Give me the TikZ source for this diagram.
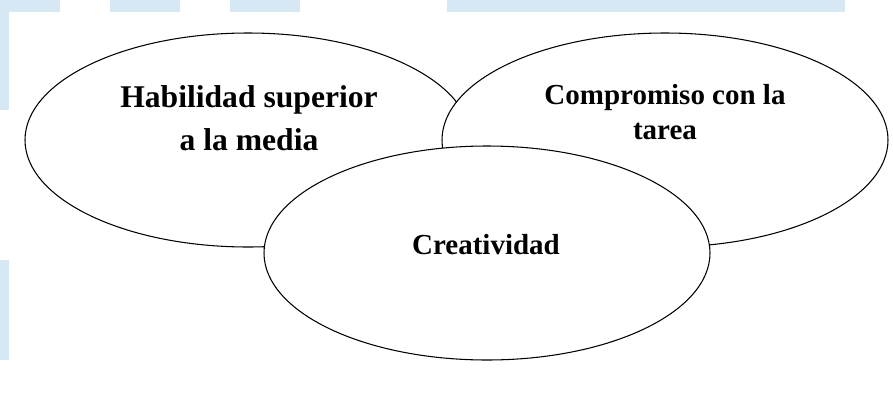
\documentclass[tikz,border=0pt]{standalone}
\usepackage{fontspec}
\setmainfont{Liberation Serif}
\usetikzlibrary{shapes.geometric}
\definecolor{wmblue}{HTML}{D5E8F3}

\begin{document}
\begin{tikzpicture}[x=0.02cm, y=-0.02cm]
  \tikzset{
    trait/.style={draw, ellipse, fill=white, line width=0.6pt,
      minimum width=446*0.02cm, minimum height=214*0.02cm, inner sep=0pt},
    traittext/.style={font=\bfseries\fontsize{16.5}{19.5}\selectfont, align=center},
    wm/.style={fill=wmblue, draw=none}
  }

  % Watermark behind the panel
  \useasboundingbox (0,0) rectangle (893,396);
  \fill[white] (0,0) rectangle (893,396);
  \fill[wm] (0,0) rectangle (9,110);
  \fill[wm] (0,260) rectangle (9,360);
  \fill[wm] (0,0) rectangle (60,12);
  \fill[wm] (110,0) rectangle (180,12);
  \fill[wm] (230,0) rectangle (300,12);
  \fill[wm] (447,0) rectangle (845,12);

  % White panel
  \fill[white] (9,12) rectangle (893,396);

  % Three overlapping traits
  \node[trait] (ability) at (248,140) {};
  \node[trait] (task) at (665,140) {};
  \node[trait] (creative) at (487,253) {};

  % Labels
  \node[traittext, font=\bfseries\fontsize{18}{24.5}\selectfont] (abilitytext) at (249,118)
    {Habilidad superior\\a la media};
  \node[traittext, font=\bfseries\fontsize{16.5}{19.5}\selectfont] (tasktext) at (665,112)
    {Compromiso con la\\tarea};
  \node[traittext] (creativetext) at (486,245) {Creatividad};
\end{tikzpicture}
\end{document}
